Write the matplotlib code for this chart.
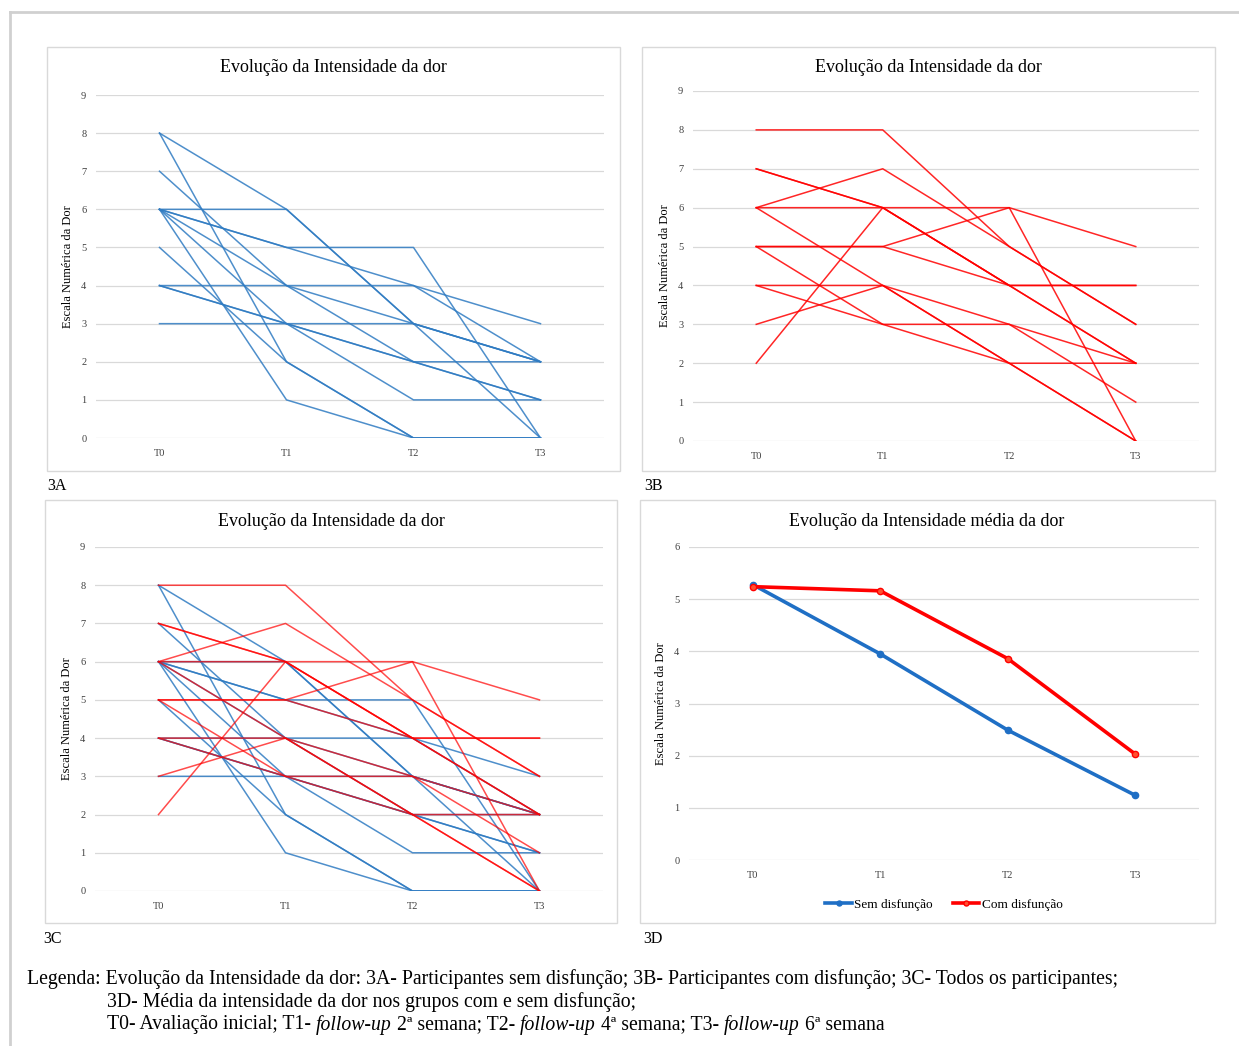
import numpy as np
import matplotlib.pyplot as plt
from matplotlib.patches import Rectangle
from matplotlib.lines import Line2D

plt.rcParams['font.family'] = ['Liberation Serif', 'DejaVu Serif']

# Time points
tempos = ['T0', 'T1', 'T2', 'T3']

# Participants without dysfunction (3A), one row per participant
sem_disfuncao = [
    [8, 6, 3, 2],
    [8, 2, 0, 0],
    [7, 4, 2, 1],
    [6, 6, 3, 0],
    [6, 5, 5, 0],
    [6, 5, 4, 3],
    [6, 4, 3, 2],
    [6, 1, 0, 0],
    [5, 2, 0, 0],
    [4, 4, 4, 2],
    [4, 3, 3, 2],
    [4, 3, 2, 1],
    [3, 3, 1, 1],
    [6, 3, 2, 2],
]

# Participants with dysfunction (3B)
com_disfuncao = [
    [8, 8, 5, 3],
    [7, 6, 4, 2],
    [7, 6, 6, 0],
    [6, 7, 5, 3],
    [6, 6, 4, 2],
    [6, 4, 2, 0],
    [5, 5, 6, 5],
    [5, 5, 4, 4],
    [5, 3, 3, 2],
    [4, 4, 3, 1],
    [4, 3, 2, 2],
    [3, 4, 2, 0],
    [2, 6, 4, 4],
]

# Group means (3D)
media_sem = [5.28, 3.95, 2.49, 1.24]
media_com = [5.24, 5.16, 3.86, 2.03]

AZUL = '#2F7BC2'
VERMELHO = '#FF0000'
GRELHA = '#d9d9d9'

W, H = 1239, 1046
fig = plt.figure(figsize=(W/100, H/100), dpi=100)
renderer = fig.canvas.get_renderer()

def fx(x):
    return x/W

def fy(y):
    return 1 - y/H

def caixa(x0, y0, x1, y1):
    fig.patches.append(Rectangle((fx(x0), fy(y1)), fx(x1-x0), (y1-y0)/H,
                                 transform=fig.transFigure, fill=False,
                                 edgecolor='#d9d9d9', lw=1))

def eixo(left, right, top, bottom, ymax):
    ax = fig.add_axes([fx(left), fy(bottom), fx(right-left), (bottom-top)/H])
    ax.set_xlim(-0.5, 3.5)
    ax.set_ylim(0, ymax)
    for s in ax.spines.values():
        s.set_visible(False)
    ax.set_yticks(range(ymax+1))
    ax.yaxis.grid(True, color=GRELHA, lw=0.9)
    ax.set_axisbelow(True)
    ax.set_xticks(range(4))
    ax.set_xticklabels(tempos)
    ax.tick_params(length=0, labelsize=7.5, colors='#404040', pad=8)
    ax.tick_params(axis='y', pad=7)
    ax.patch.set_alpha(0)
    ax.set_ylabel('Escala Numérica da Dor', fontsize=9, labelpad=5)
    return ax

def texto_partes(x, y, partes, size):
    # write pieces of text one after another, some in italic
    for s, estilo in partes:
        t = fig.text(x, y, s, ha='left', va='center', fontsize=size, style=estilo)
        x += t.get_window_extent(renderer).width / W

# outer frame
fig.add_artist(Line2D([fx(10), 1], [fy(12), fy(12)], color='#d0d0d0', lw=2))
fig.add_artist(Line2D([fx(10), fx(10)], [fy(12), 0], color='#d0d0d0', lw=2))

titulo = 'Evolução da Intensidade da dor'
x = np.arange(4)

# 3A
caixa(47, 47, 620, 471)
axA = eixo(96, 604, 95, 438, 9)
for p in sem_disfuncao:
    axA.plot(x, p, color=AZUL, lw=1.1, alpha=0.85)
fig.text(fx(333), fy(68), titulo, ha='center', va='center', fontsize=13)
fig.text(fx(47), fy(486), '3A', ha='left', va='center', fontsize=11.5)

# 3B
caixa(642, 47, 1215, 471)
axB = eixo(693, 1199, 91, 441, 9)
for p in com_disfuncao:
    axB.plot(x, p, color=VERMELHO, lw=1.1, alpha=0.85)
fig.text(fx(928), fy(67), titulo, ha='center', va='center', fontsize=13)
fig.text(fx(644), fy(486), '3B', ha='left', va='center', fontsize=11.5)

# 3C
caixa(45, 500, 617, 923)
axC = eixo(95, 603, 547, 891, 9)
for p in sem_disfuncao:
    axC.plot(x, p, color=AZUL, lw=1.1, alpha=0.85)
for p in com_disfuncao:
    axC.plot(x, p, color=VERMELHO, lw=1.1, alpha=0.7)
fig.text(fx(331), fy(521), titulo, ha='center', va='center', fontsize=13)
fig.text(fx(43), fy(939), '3C', ha='left', va='center', fontsize=11.5)

# 3D
caixa(640, 500, 1215, 923)
axD = eixo(689, 1199, 547, 860, 6)
axD.plot(x, media_sem, color='#1F6FC5', lw=2.6, marker='o', ms=4.5,
         label='Sem disfunção')
axD.plot(x, media_com, color=VERMELHO, lw=2.6, marker='o', ms=4.5,
         markerfacecolor='#FF5030', label='Com disfunção')
fig.text(fx(927), fy(521), 'Evolução da Intensidade média da dor',
         ha='center', va='center', fontsize=13)
axD.legend(loc='upper center', bbox_to_anchor=(0.5, -0.085), ncol=2,
           frameon=False, fontsize=9.5, handlelength=2.0, columnspacing=1.5,
           handletextpad=0.2, markerscale=0.8)
fig.text(fx(643), fy(939), '3D', ha='left', va='center', fontsize=11.5)

# caption
tam = 14.2
texto_partes(fx(27), fy(979),
             [('Legenda: Evolução da Intensidade da dor: 3A- Participantes sem disfunção; '
               '3B- Participantes com disfunção; 3C- Todos os participantes;', 'normal')], tam)
texto_partes(fx(107), fy(1002),
             [('3D- Média da intensidade da dor nos grupos com e sem disfunção;', 'normal')], tam)
texto_partes(fx(107), fy(1025),
             [('T0- Avaliação inicial; T1- ', 'normal'), ('follow-up', 'italic'),
              (' 2ª semana; T2- ', 'normal'), ('follow-up', 'italic'),
              (' 4ª semana; T3- ', 'normal'), ('follow-up', 'italic'),
              (' 6ª semana', 'normal')], tam)

fig.savefig('out.png', dpi=100)
